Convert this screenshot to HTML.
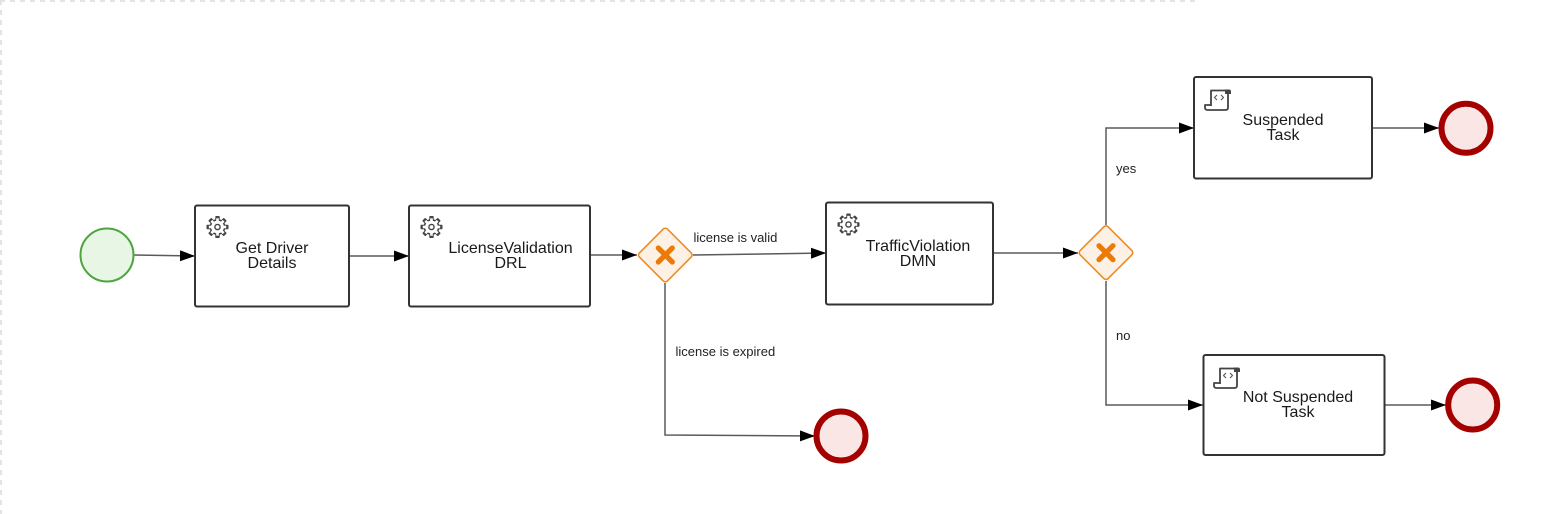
<!DOCTYPE html>
<html>
<head>
<meta charset="utf-8">
<style>
  html,body{margin:0;padding:0;background:#fff;}
  svg{display:block;}
  .t{font-family:"Liberation Sans",sans-serif;font-size:16px;fill:#1a1a1a;text-anchor:middle;}
  .l{font-family:"Liberation Sans",sans-serif;font-size:13px;fill:#222;}
</style>
</head>
<body>
<svg width="1551" height="514" viewBox="0 0 1551 514" xmlns="http://www.w3.org/2000/svg">
  <defs>
    <marker id="ar" markerWidth="15" markerHeight="11" refX="15" refY="5.5" orient="auto" markerUnits="userSpaceOnUse">
      <path d="M0,0 L15,5.5 L0,11 Z" fill="#000"/>
    </marker>
    <g id="gear">
      <g fill="#444">
        <circle r="8"/>
        <rect x="-2.2" y="-11" width="4.4" height="22" rx="0.8"/>
        <rect x="-2.2" y="-11" width="4.4" height="22" rx="0.8" transform="rotate(45)"/>
        <rect x="-2.2" y="-11" width="4.4" height="22" rx="0.8" transform="rotate(90)"/>
        <rect x="-2.2" y="-11" width="4.4" height="22" rx="0.8" transform="rotate(135)"/>
      </g>
      <g fill="#fff" transform="scale(0.82)">
        <circle r="7.8"/>
        <rect x="-1.6" y="-10.6" width="3.2" height="21.2" transform="rotate(0)"/>
        <rect x="-1.6" y="-10.6" width="3.2" height="21.2" transform="rotate(45)"/>
        <rect x="-1.6" y="-10.6" width="3.2" height="21.2" transform="rotate(90)"/>
        <rect x="-1.6" y="-10.6" width="3.2" height="21.2" transform="rotate(135)"/>
      </g>
      <circle r="2.6" fill="none" stroke="#444" stroke-width="1.4"/>
    </g>
    <g id="scroll">
      <path d="M7,17 V1.5 H24 V18.5 Q24,21 21.5,21 H3.5 Q1,21 1,18.5 V16 H7" fill="none" stroke="#444" stroke-width="1.8" stroke-linejoin="round"/>
      <path d="M21,0.5 H25 Q27,0.5 27,2.5 V5 H21 Z" fill="#444"/>
      <polyline points="13,6 10.5,8.5 13,11" fill="none" stroke="#555" stroke-width="1.1"/>
      <polyline points="17,6 19.5,8.5 17,11" fill="none" stroke="#555" stroke-width="1.1"/>
    </g>
    <g id="gw">
      <rect x="-19.8" y="-19.8" width="39.6" height="39.6" rx="3" transform="rotate(45)" fill="#fdf1e6" stroke="#ee8a24" stroke-width="1.6"/>
      <line x1="-7" y1="-7" x2="7" y2="7" stroke="#ec7a08" stroke-width="5.2" stroke-linecap="round"/>
      <line x1="7" y1="-7" x2="-7" y2="7" stroke="#ec7a08" stroke-width="5.2" stroke-linecap="round"/>
    </g>
  </defs>

  <!-- dashed canvas border -->
  <line x1="0" y1="1" x2="1195" y2="1" stroke="#e4e4e4" stroke-width="2" stroke-dasharray="5,5"/>
  <line x1="1" y1="0" x2="1" y2="514" stroke="#e4e4e4" stroke-width="2" stroke-dasharray="5,5"/>

  <!-- connectors -->
  <g fill="none" stroke="#5a5a5a" stroke-width="1.5">
    <line x1="134" y1="255" x2="195" y2="256" marker-end="url(#ar)"/>
    <line x1="349" y1="256" x2="409" y2="256" marker-end="url(#ar)"/>
    <line x1="590" y1="255" x2="637" y2="255" marker-end="url(#ar)"/>
    <line x1="693" y1="255" x2="826" y2="253" marker-end="url(#ar)"/>
    <polyline points="665,283 665,435 815,436" marker-end="url(#ar)"/>
    <line x1="993" y1="253" x2="1078" y2="253" marker-end="url(#ar)"/>
    <polyline points="1106,225 1106,128 1194,128" marker-end="url(#ar)"/>
    <polyline points="1106,281 1106,405 1203,405" marker-end="url(#ar)"/>
    <line x1="1372" y1="128" x2="1439" y2="128" marker-end="url(#ar)"/>
    <line x1="1385" y1="405" x2="1446" y2="405" marker-end="url(#ar)"/>
  </g>

  <!-- start event -->
  <circle cx="107" cy="255" r="26.5" fill="#e8f7e5" stroke="#4ea53f" stroke-width="2"/>

  <!-- tasks -->
  <g fill="#fff" stroke="#333" stroke-width="2">
    <rect x="195" y="205.5" width="154" height="101" rx="2"/>
    <rect x="409" y="205.5" width="181" height="101" rx="2"/>
    <rect x="826" y="202.5" width="167" height="102" rx="2"/>
    <rect x="1194" y="77" width="178" height="101.5" rx="2"/>
    <rect x="1203.5" y="355" width="181" height="100" rx="2"/>
  </g>

  <use href="#gear" x="217.5" y="227"/>
  <use href="#gear" x="431.5" y="227"/>
  <use href="#gear" x="848.5" y="224.5"/>
  <use href="#scroll" x="1204" y="89"/>
  <use href="#scroll" x="1213" y="367"/>

  <text class="t" x="272" y="253">Get Driver</text>
  <text class="t" x="272" y="268">Details</text>
  <text class="t" x="510.5" y="253">LicenseValidation</text>
  <text class="t" x="510.5" y="268">DRL</text>
  <text class="t" x="918" y="251">TrafficViolation</text>
  <text class="t" x="918" y="266">DMN</text>
  <text class="t" x="1283" y="125">Suspended</text>
  <text class="t" x="1283" y="140">Task</text>
  <text class="t" x="1298" y="402">Not Suspended</text>
  <text class="t" x="1298" y="417">Task</text>

  <!-- gateways -->
  <use href="#gw" x="665.3" y="255"/>
  <use href="#gw" x="1106" y="252.7"/>

  <!-- end events -->
  <g fill="#fbe6e6" stroke="#a50000" stroke-width="6">
    <circle cx="1466" cy="128.3" r="24.5"/>
    <circle cx="1472.7" cy="405" r="24.5"/>
    <circle cx="841" cy="436" r="24.5"/>
  </g>

  <!-- labels -->
  <text class="l" x="693.5" y="242">license is valid</text>
  <text class="l" x="675.5" y="356">license is expired</text>
  <text class="l" x="1116" y="173">yes</text>
  <text class="l" x="1116" y="340">no</text>
</svg>
</body>
</html>
